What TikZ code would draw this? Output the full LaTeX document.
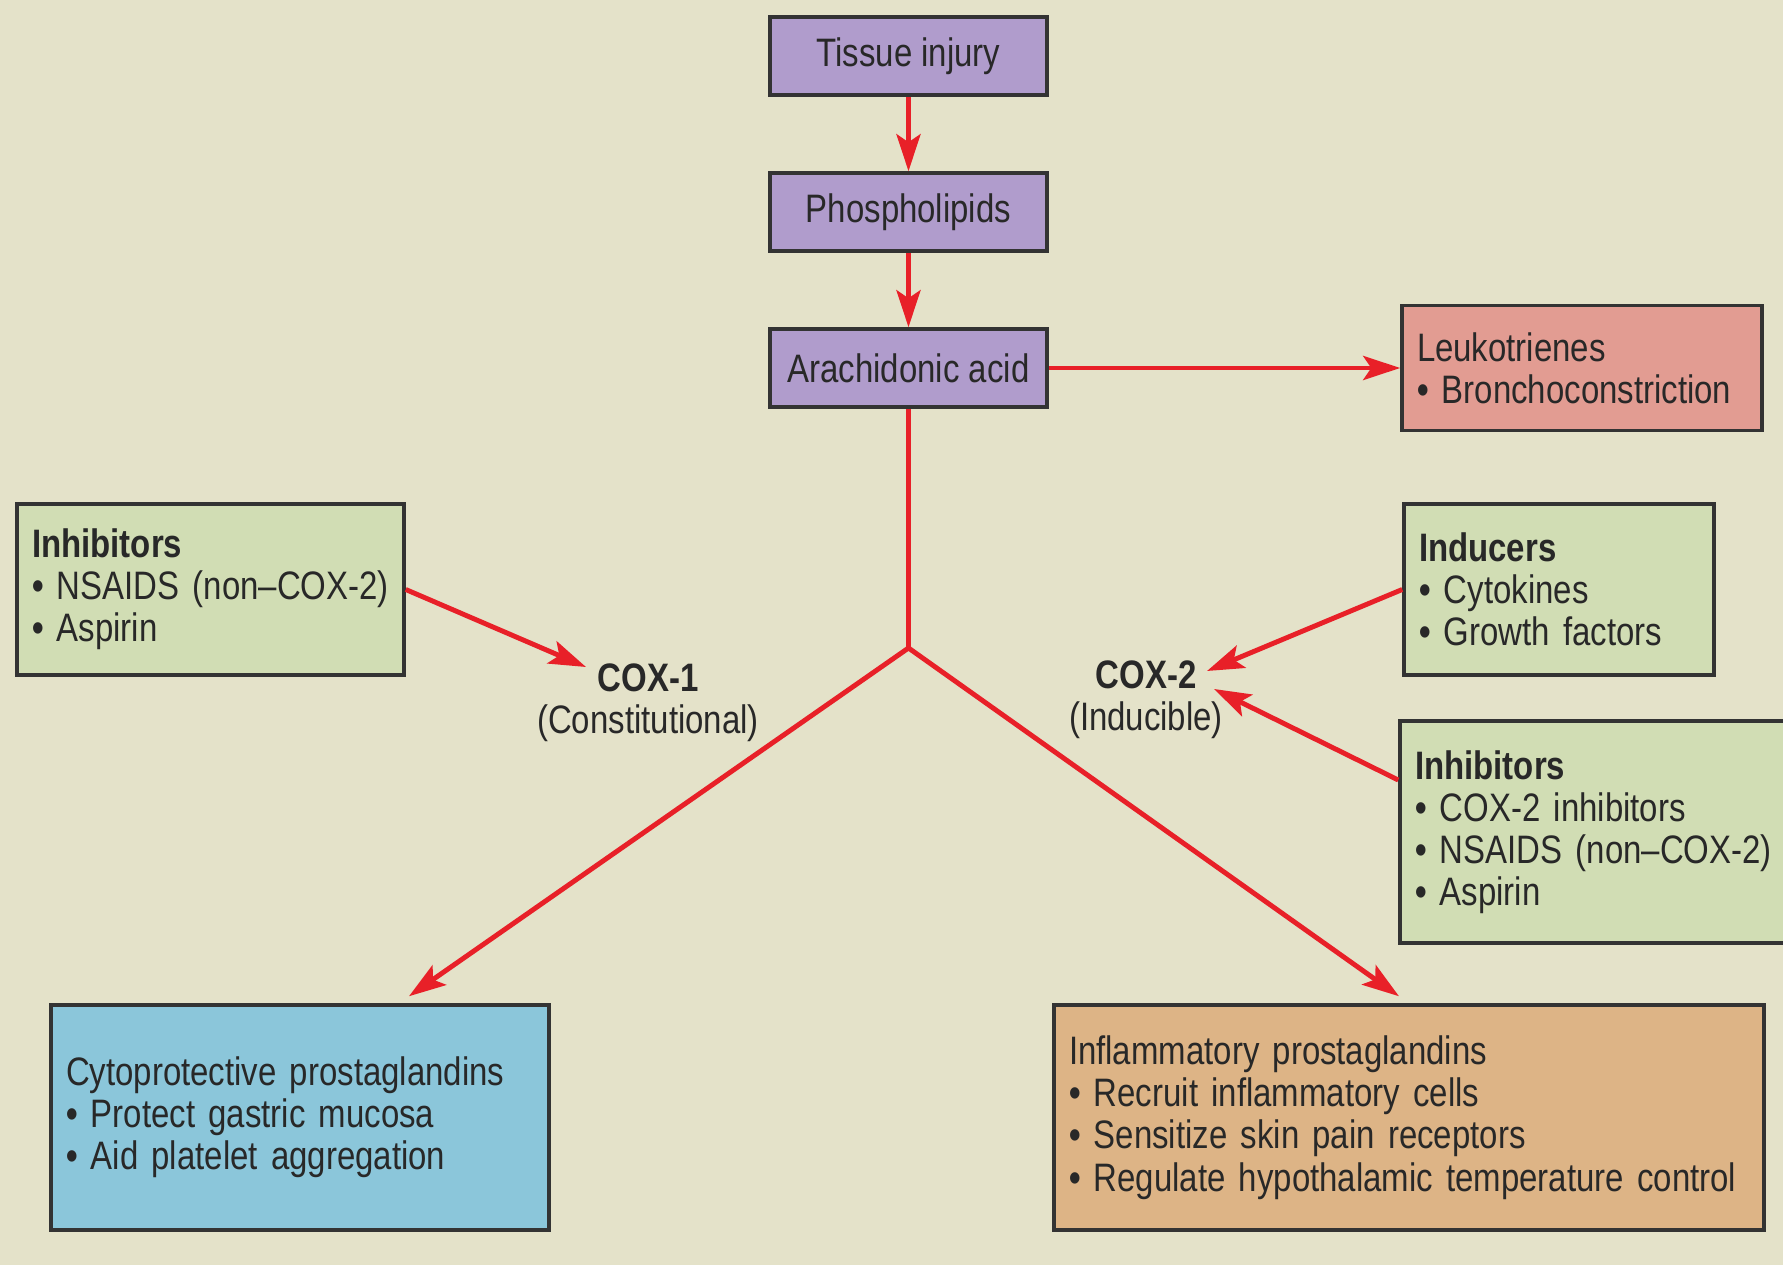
\documentclass[tikz,border=0pt]{standalone}
\usepackage{fontspec}
\setmainfont[FakeStretch=0.83]{Liberation Sans}
\usepackage{tikz}
\usetikzlibrary{arrows.meta,positioning}
\definecolor{cxbg}{RGB}{228,226,201}
\definecolor{cxpurple}{RGB}{176,156,204}
\definecolor{cxsalmon}{RGB}{226,156,146}
\definecolor{cxgreen}{RGB}{209,221,180}
\definecolor{cxblue}{RGB}{139,198,218}
\definecolor{cxorange}{RGB}{221,180,134}
\definecolor{cxred}{RGB}{232,32,40}
\definecolor{cxborder}{RGB}{51,51,51}
\definecolor{cxtext}{RGB}{40,40,40}
\newcommand{\bul}{\textbf{\textbullet}\ }
\tikzstyle{arrow} = [line width=1.4pt,-{Stealth[length=0.37cm,width=0.24cm,inset=0.08cm]},color=cxred]
\tikzstyle{redline} = [line width=1.4pt,color=cxred]
\tikzstyle{pathway} = [rectangle, minimum width=2.77cm, minimum height=0.78cm, text centered, draw=cxborder, fill=cxpurple, line width=1pt]
\tikzstyle{effect} = [rectangle, draw=cxborder, line width=1pt, align=left, inner xsep=0.15cm]

\begin{document}
\begin{tikzpicture}[node distance=1.56cm, font=\fontsize{11.3}{12}\selectfont, text=cxtext]
\fill[cxbg] (0,0) rectangle (17.83,-12.65);
\useasboundingbox (0,0) rectangle (17.83,-12.65);
% Main pathway
\node (tissue) [pathway] at (9.085,-0.56) {Tissue injury};
\node (phospho) [pathway, below of=tissue] {Phospholipids};
\node (arach) [pathway, below of=phospho] {Arachidonic acid};
\node (leuko) [effect, fill=cxsalmon, text width=3.30cm, minimum height=1.25cm] at (15.82,-3.68) {Leukotrienes\\\bul Bronchoconstriction};

% Enzymes and modifiers
\node (cox1) [align=center] at (6.48,-7.03) {\textbf{COX-1}\\(Constitutional)};
\node (cox2) [align=center] at (11.46,-7.00) {\textbf{COX-2}\\(Inducible)};
\node (inhibA) [effect, fill=cxgreen, text width=3.57cm, minimum height=1.71cm] at (2.105,-5.895) {\textbf{Inhibitors}\\\bul NSAIDS (non--COX-2)\\\bul Aspirin};
\node (inducers) [effect, fill=cxgreen, text width=2.80cm, minimum height=1.71cm] at (15.59,-5.895) {\textbf{Inducers}\\\bul Cytokines\\\bul Growth factors};
\node (inhibB) [effect, fill=cxgreen, text width=3.65cm, minimum height=2.22cm] at (15.975,-8.32) {\textbf{Inhibitors}\\\bul COX-2 inhibitors\\\bul NSAIDS (non--COX-2)\\\bul Aspirin};

% Products
\node (cyto) [effect, fill=cxblue, text width=4.68cm, minimum height=2.25cm] at (3.00,-11.175) {Cytoprotective prostaglandins\\\bul Protect gastric mucosa\\\bul Aid platelet aggregation};
\node (inflam) [effect, fill=cxorange, text width=6.80cm, minimum height=2.25cm] at (14.09,-11.175) {Inflammatory prostaglandins\\\bul Recruit inflammatory cells\\\bul Sensitize skin pain receptors\\\bul Regulate hypothalamic temperature control};

\coordinate (fork) at (9.085,-6.48);
\coordinate (cox1in) at (5.86,-6.67);
\coordinate (cox2top) at (12.07,-6.71);
\coordinate (cox2low) at (12.14,-6.89);

\draw[arrow] (tissue) -- (phospho);
\draw[arrow] (phospho) -- (arach);
\draw[arrow] (arach.east) -- (arach.east -| leuko.west);
\draw[redline] (arach) -- (fork);
\draw[arrow] (fork) -- ([xshift=1.09cm,yshift=0.07cm]cyto.north);
\draw[arrow] (fork) -- ([xshift=-0.1cm,yshift=0.07cm]inflam.north);
\draw[arrow] (inhibA.east) -- (cox1in);
\draw[arrow] (inducers.west) -- (cox2top);
\draw[arrow] ([yshift=0.52cm]inhibB.west) -- (cox2low);
\end{tikzpicture}
\end{document}
